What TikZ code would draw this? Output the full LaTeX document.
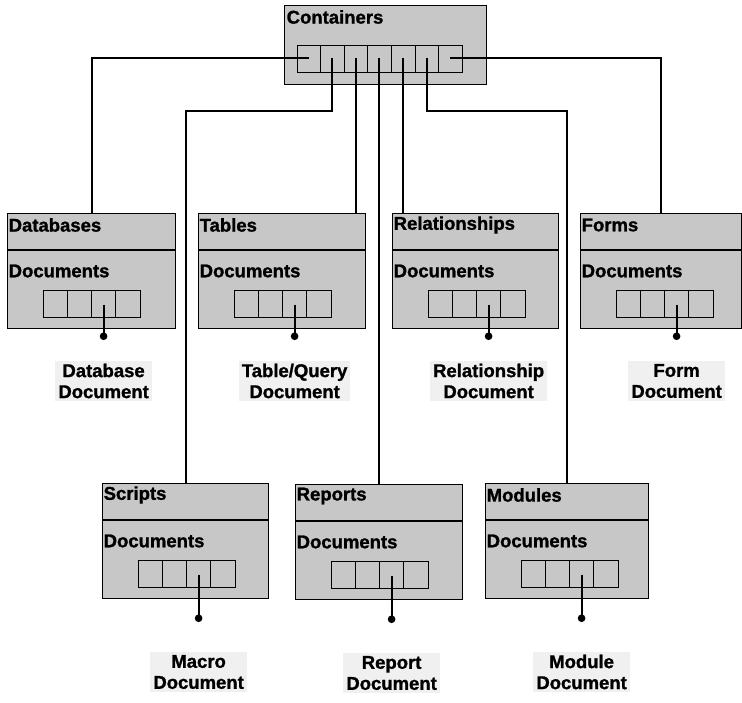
\documentclass[tikz,border=0pt]{standalone}
\usepackage{fontspec}
\setmainfont{Liberation Sans}[BoldFeatures={FakeBold=1.2}]
\usetikzlibrary{arrows.meta,calc,positioning}
\tikzset{pin/.style={-{Circle[length=7.5pt]}, line width=2pt},
  wire/.style={line width=2pt},
  panel/.style={draw, line width=1.2pt, fill=black!22, anchor=north west, inner sep=0pt},
  cellrow/.style={draw, line width=1.2pt, anchor=north west, inner sep=0pt, minimum width=97pt, minimum height=27pt},
  hdr/.style={anchor=west, inner sep=0.5pt, font=\bfseries\fontsize{18.5}{20}\selectfont},
  doclbl/.style={fill=black!6, align=center, inner sep=3pt, font=\bfseries\fontsize{18.5}{21}\selectfont}}

\begin{document}
\begin{tikzpicture}[x=1pt, y=-1pt]
  \useasboundingbox (0,0) rectangle (742,703);
  % top container
  \node[panel, minimum width=202pt, minimum height=79pt] (ct) at (284,5) {};
  \node[hdr] (ct-t) at ($(ct.north west)+(2,12)$) {Containers};
  \node[cellrow, minimum width=165pt] (ct-c) at (297,45) {};
  \foreach \k in {1,...,6}{\draw[line width=0.7pt] ($(ct-c.north west)+(23.57*\k,0)$) -- ($(ct-c.south west)+(23.57*\k,0)$);}
  \foreach \k in {1,...,7}{\coordinate (s\k) at ($(ct-c.north west)+(23.57*\k-11.8,13)$);}
  % the seven panels
  \foreach \n/\x/\y/\w/\ttl/\dy/\ly/\txt in {
      db/7/213/168/Databases/127/168/{Database\\Document},
      tb/198/213/167/Tables/127/168/{Table/Query\\Document},
      rl/392/213/166/Relationships/127/168/{Relationship\\Document},
      fm/580/213/161/Forms/127/168/{Form\\Document},
      sc/102/483/166/Scripts/139/189/{Macro\\Document},
      rp/295/484/167/Reports/139/189/{Report\\Document},
      md/485/483/163/Modules/139/189/{Module\\Document}}{
    \node[panel, minimum width=\w pt, minimum height=115pt] (\n) at (\x,\y) {};
    \draw[line width=1.2pt] ($(\n.north west)+(0,37)$) -- ($(\n.north east)+(0,37)$);
    \node[hdr] (\n-t) at ($(\n.north west)+(1,12)$) {\ttl};
    \node[hdr] (\n-d) at ($(\n.north west)+(1,58)$) {Documents};
    \node[cellrow] (\n-c) at ($(\n.north west)+(36,77)$) {};
    \foreach \k in {1,2,3}{\draw[line width=1.2pt] ($(\n-c.north west)+(24.25*\k,0)$) -- ($(\n-c.south west)+(24.25*\k,0)$);}
    \coordinate (\n-e) at ($(\n.north west)+(96.6,\dy)$);
    \node[doclbl] (\n-l) at ($(\n.north west)+(96.6,\ly)$) {\txt};
    \draw[pin] ($(\n-c.south west)+(60.6,-13.5)$) -- (\n-e);
  }
  % connectors from the container
  \draw[wire] (s1) -| (db.north);
  \draw[wire] (s7) -| (fm.north);
  \draw[wire] (s2) -- ++(0,53) -| (sc.north);
  \draw[wire] (s3) -- (s3 |- tb.north);
  \draw[wire] (s4) -- (s4 |- rp.north);
  \draw[wire] (s5) -- (s5 |- rl.north);
  \draw[wire] (s6) -- ++(0,53) -| (md.north);
\end{tikzpicture}
\end{document}
